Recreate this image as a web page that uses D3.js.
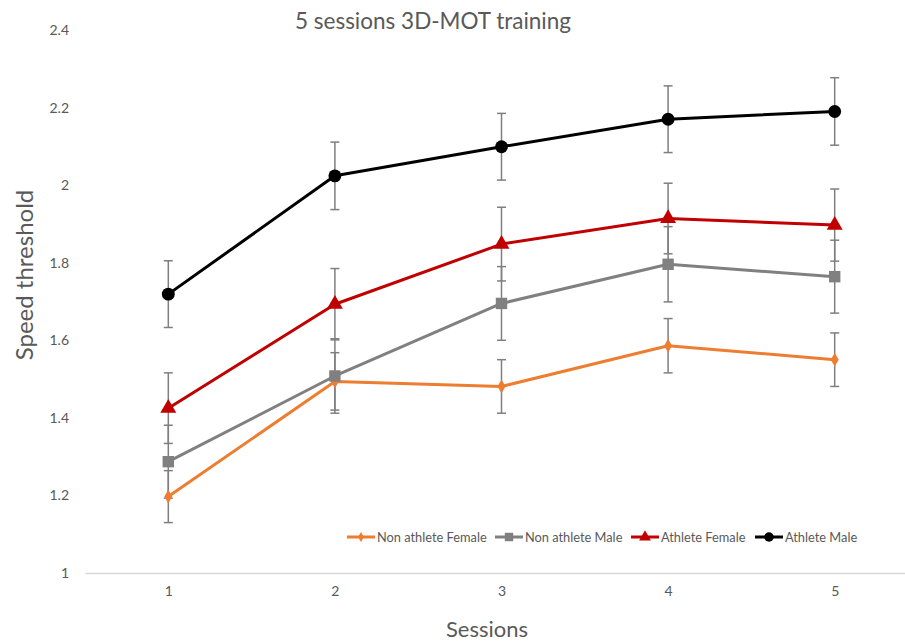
<!DOCTYPE html>
<html><head><meta charset="utf-8">
<script src="https://cdn.jsdelivr.net/npm/d3@7"></script>
<style>body{margin:0;background:#fff}svg{display:block}text{font-family:Lato,"Open Sans",sans-serif}</style>
</head><body>
<svg id="c" width="905" height="643"></svg>
<script>
const sessions = [1, 2, 3, 4, 5];
const yTicks = [1, 1.2, 1.4, 1.6, 1.8, 2, 2.2, 2.4];
const seriesNames = ["Non athlete Female", "Non athlete Male", "Athlete Female", "Athlete Male"];
const nonAthleteFemale = [1.197, 1.494, 1.481, 1.586, 1.550];
const nonAthleteFemaleErr = [0.067, 0.074, 0.069, 0.070, 0.069];
const nonAthleteMale = [1.287, 1.508, 1.695, 1.796, 1.764];
const nonAthleteMaleErr = [0.094, 0.096, 0.095, 0.097, 0.094];
const athleteFemale = [1.425, 1.693, 1.848, 1.914, 1.897];
const athleteFemaleErr = [0.091, 0.092, 0.095, 0.091, 0.093];
const athleteMale = [1.719, 2.024, 2.099, 2.170, 2.190];
const athleteMaleErr = [0.086, 0.087, 0.086, 0.086, 0.087];

const series = [
  {name: seriesNames[0], values: nonAthleteFemale, err: nonAthleteFemaleErr, color: "#ED7D31", symbol: d3.symbolDiamond, size: 55},
  {name: seriesNames[1], values: nonAthleteMale, err: nonAthleteMaleErr, color: "#808080", symbol: d3.symbolSquare, size: 130},
  {name: seriesNames[2], values: athleteFemale, err: athleteFemaleErr, color: "#C00000", symbol: d3.symbolTriangle, size: 110},
  {name: seriesNames[3], values: athleteMale, err: athleteMaleErr, color: "#000000", symbol: d3.symbolCircle, size: 130}
];

const svg = d3.select("#c");
const x = d3.scalePoint().domain(sessions).range([85, 918]).padding(0.5);
const y = d3.scaleLinear().domain([1, 2.4]).range([573, 30]);
const txt = "#595959";

// title
svg.append("text").attr("x", 433).attr("y", 29).attr("text-anchor", "middle")
  .attr("font-size", 22.5).attr("fill", txt).text("5 sessions 3D-MOT training");

// y tick labels
const ya = svg.append("g").attr("transform", "translate(85,0)")
  .call(d3.axisLeft(y).tickValues(yTicks).tickFormat(d3.format("")).tickSize(0).tickPadding(16));
ya.select(".domain").remove();
ya.selectAll("text").attr("font-size", 14).attr("fill", txt).style("font-family", "Lato,sans-serif");

// x axis
const xa = svg.append("g").attr("transform", "translate(0,573)")
  .call(d3.axisBottom(x).tickSize(0).tickPadding(13));
xa.select(".domain").attr("stroke", "#d9d9d9").attr("stroke-width", 1.3);
xa.selectAll("text").attr("font-size", 14).attr("fill", txt).style("font-family", "Lato,sans-serif");

// axis titles
svg.append("text").attr("transform", "translate(33,275) rotate(-90)").attr("text-anchor", "middle")
  .attr("font-size", 24).attr("fill", txt).text("Speed threshold");
svg.append("text").attr("x", 487).attr("y", 637).attr("text-anchor", "middle")
  .attr("font-size", 22).attr("fill", txt).text("Sessions");

// error bars
const eb = svg.append("g").attr("stroke", "#7f7f7f").attr("stroke-width", 1.5);
series.forEach(s => {
  sessions.forEach((k, i) => {
    const cx = x(k), y1 = y(s.values[i] + s.err[i]), y2 = y(s.values[i] - s.err[i]);
    eb.append("line").attr("x1", cx).attr("x2", cx).attr("y1", y1).attr("y2", y2);
    eb.append("line").attr("x1", cx - 4.5).attr("x2", cx + 4.5).attr("y1", y1).attr("y2", y1);
    eb.append("line").attr("x1", cx - 4.5).attr("x2", cx + 4.5).attr("y1", y2).attr("y2", y2);
  });
});

// lines and markers
const line = d3.line().x((d, i) => x(sessions[i])).y(d => y(d));
series.forEach(s => {
  svg.append("path").datum(s.values).attr("d", line).attr("fill", "none")
    .attr("stroke", s.color).attr("stroke-width", 3).attr("stroke-linejoin", "round");
  svg.selectAll(null).data(s.values).enter().append("path")
    .attr("d", d3.symbol().type(s.symbol).size(s.size))
    .attr("transform", (d, i) => `translate(${x(sessions[i])},${y(d)})`)
    .attr("fill", s.color);
});

// legend
const legX = [347, 495, 631, 755];
series.forEach((s, i) => {
  const g = svg.append("g").attr("transform", `translate(${legX[i]},537)`);
  g.append("line").attr("x1", 0).attr("x2", 28).attr("stroke", s.color).attr("stroke-width", 3);
  g.append("path").attr("d", d3.symbol().type(s.symbol).size(s.size * 0.55)).attr("transform", "translate(14,0)").attr("fill", s.color);
  g.append("text").attr("x", 30).attr("y", 4.5).attr("font-size", 12.8).attr("fill", txt).text(s.name);
});
</script>
</body></html>
